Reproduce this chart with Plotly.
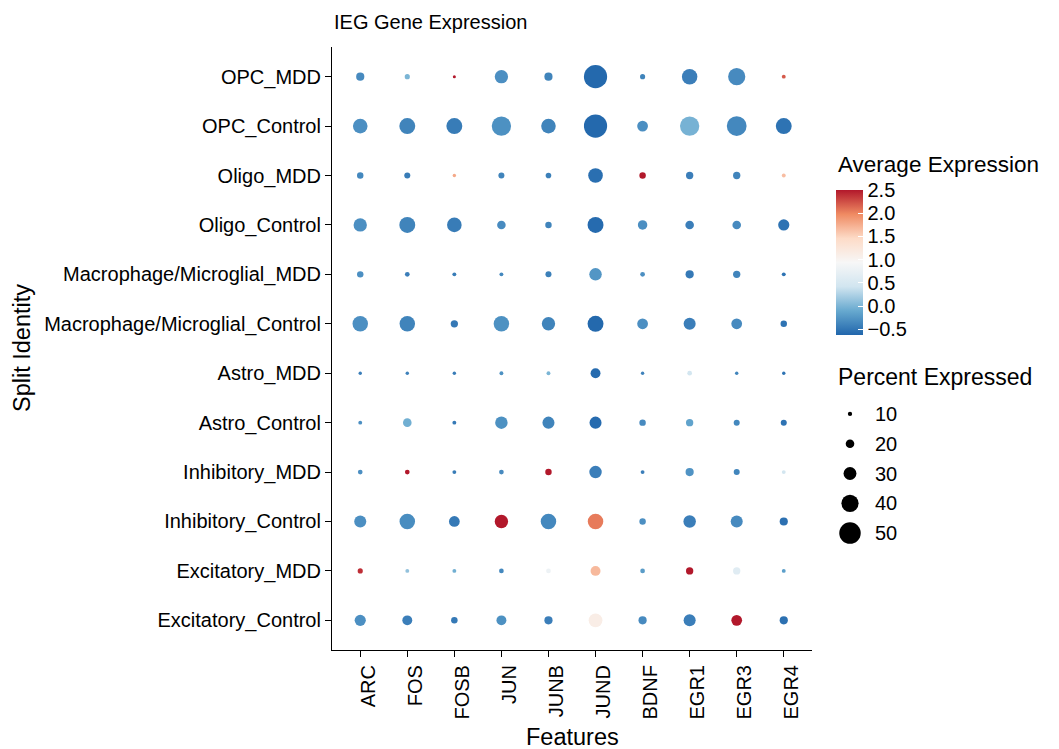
import plotly.graph_objects as go

# ---------------- data ----------------
features = ["ARC", "FOS", "FOSB", "JUN", "JUNB", "JUND", "BDNF", "EGR1", "EGR3", "EGR4"]

# identities listed top -> bottom as they appear on the chart
identities = [
    "OPC_MDD", "OPC_Control",
    "Oligo_MDD", "Oligo_Control",
    "Macrophage/Microglial_MDD", "Macrophage/Microglial_Control",
    "Astro_MDD", "Astro_Control",
    "Inhibitory_MDD", "Inhibitory_Control",
    "Excitatory_MDD", "Excitatory_Control",
]

# percent of cells expressing (rows follow `identities`, columns follow `features`)
pct_expressed = [
    [19, 12, 7, 31, 19, 54, 12, 36, 40, 9],
    [34, 37, 37, 45, 34, 54, 25, 45, 46, 37],
    [15, 14, 8, 14, 13, 34, 15, 17, 17, 9],
    [31, 37, 34, 20, 15, 37, 22, 20, 20, 26],
    [15, 11, 9, 9, 14, 29, 11, 19, 17, 9],
    [36, 36, 17, 36, 31, 37, 25, 28, 25, 15],
    [8, 8, 8, 9, 9, 23, 8, 11, 8, 8],
    [9, 20, 9, 29, 28, 28, 15, 17, 14, 14],
    [11, 11, 9, 11, 15, 29, 9, 19, 14, 9],
    [28, 36, 25, 31, 36, 36, 15, 29, 28, 19],
    [12, 9, 9, 11, 11, 23, 11, 17, 17, 9],
    [26, 23, 15, 23, 19, 32, 19, 28, 25, 19],
]

# average (scaled) expression
avg_expression = [
    [-0.34, 0.00, 2.50, -0.30, -0.39, -0.60, -0.39, -0.43, -0.34, 2.20],
    [-0.30, -0.39, -0.45, -0.29, -0.39, -0.60, -0.30, -0.02, -0.36, -0.52],
    [-0.36, -0.45, 1.78, -0.39, -0.42, -0.55, 2.50, -0.43, -0.38, 1.65],
    [-0.30, -0.39, -0.45, -0.33, -0.39, -0.58, -0.30, -0.43, -0.34, -0.52],
    [-0.30, -0.43, -0.45, -0.36, -0.42, -0.25, -0.30, -0.47, -0.38, -0.52],
    [-0.30, -0.39, -0.47, -0.29, -0.39, -0.60, -0.30, -0.43, -0.34, -0.52],
    [-0.43, -0.40, -0.45, -0.29, 0.00, -0.58, -0.40, 0.45, -0.38, -0.52],
    [-0.30, -0.05, -0.47, -0.29, -0.39, -0.58, -0.34, -0.15, -0.36, -0.52],
    [-0.30, 2.50, -0.45, -0.34, 2.50, -0.43, -0.43, -0.27, -0.38, 0.45],
    [-0.30, -0.32, -0.47, 2.50, -0.36, 2.05, -0.30, -0.43, -0.34, -0.54],
    [2.40, 0.11, -0.05, -0.36, 0.80, 1.68, -0.20, 2.50, 0.62, -0.18],
    [-0.30, -0.43, -0.47, -0.29, -0.43, 1.12, -0.34, -0.43, 2.50, -0.54],
]

colorbar_ticks = [-0.5, 0.0, 0.5, 1.0, 1.5, 2.0, 2.5]
size_legend_values = [10, 20, 30, 40, 50]

# ---------------- styling ----------------
FONT = "Liberation Sans, Arial, sans-serif"
SIZE_K = 0.43          # px of diameter per percent
CMIN, CMAX = -0.62, 2.5
RDBU = [
    [0.0, "#2166AC"], [1 / 6, "#67A9CF"], [2 / 6, "#D1E5F0"], [3 / 6, "#F7F7F7"],
    [4 / 6, "#FDDBC7"], [5 / 6, "#EF8A62"], [1.0, "#B2182B"],
]

W, H = 1059, 749
ML, MR, MT, MB = 332, 20, 47, 99
PW = W - ML - MR      # 707
PH = H - MT - MB      # 603


def px_x(p):
    return (p - ML) / PW


def px_y(p):
    return (H - MB - p) / PH


xs, ys, sizes, colors = [], [], [], []
for i, ident in enumerate(identities):
    for j, feat in enumerate(features):
        xs.append(feat)
        ys.append(ident)
        sizes.append(pct_expressed[i][j] * SIZE_K)
        colors.append(avg_expression[i][j])

fig = go.Figure()
fig.add_trace(go.Scatter(
    x=xs, y=ys, mode="markers", showlegend=False,
    marker=dict(
        size=sizes, color=colors, colorscale=RDBU, cmin=CMIN, cmax=CMAX,
        line=dict(width=0), opacity=1,
        colorbar=dict(
            x=px_x(836), xanchor="left", xpad=0, ypad=0,
            y=px_y(262.5), yanchor="middle",
            len=145, lenmode="pixels", thickness=27, thicknessmode="pixels",
            outlinewidth=0, tickvals=colorbar_ticks, tickformat=".1f",
            ticks="inside", ticklen=5, tickcolor="white", tickwidth=1,
            tickfont=dict(family=FONT, size=20, color="black"),
        ),
    ),
    xaxis="x", yaxis="y",
))

# size legend drawn on its own small axes
fig.add_trace(go.Scatter(
    x=["pct"] * len(size_legend_values),
    y=[str(v) for v in size_legend_values],
    mode="markers", showlegend=False, hoverinfo="skip",
    marker=dict(size=[v * SIZE_K for v in size_legend_values], color="#000000",
                opacity=1, line=dict(width=0)),
    xaxis="x2", yaxis="y2",
))

axis_common = dict(
    showline=True, linecolor="black", linewidth=1.1, mirror=False,
    ticks="outside", ticklen=6, tickcolor="black", tickwidth=1.1,
    showgrid=False, zeroline=False, automargin=False,
    tickfont=dict(family=FONT, size=20, color="black"),
    type="category",
)

fig.update_layout(
    width=W, height=H,
    margin=dict(l=ML, r=MR, t=MT, b=MB, pad=0),
    paper_bgcolor="white", plot_bgcolor="white",
    font=dict(family=FONT, color="black"),
    xaxis=dict(axis_common, domain=[0, 480 / PW], categoryorder="array",
               categoryarray=features, range=[-0.6, len(features) - 0.4],
               tickangle=-90, ticklabelshift=8),
    yaxis=dict(axis_common, domain=[0, 1], categoryorder="array",
               categoryarray=identities[::-1], range=[-0.6, len(identities) - 0.4]),
    xaxis2=dict(domain=[px_x(838), px_x(862)], anchor="y2", type="category",
                showline=False, showgrid=False, zeroline=False, showticklabels=False,
                ticks="", range=[-0.5, 0.5], automargin=False),
    yaxis2=dict(domain=[px_y(548), px_y(399)], anchor="x2", side="right", type="category",
                categoryorder="array",
                categoryarray=[str(v) for v in size_legend_values[::-1]],
                range=[-0.5, len(size_legend_values) - 0.5],
                showline=False, showgrid=False, zeroline=False,
                ticks="outside", ticklen=8, tickcolor="rgba(0,0,0,0)",
                tickfont=dict(family=FONT, size=20, color="black"), automargin=False),
    annotations=[
        dict(text="IEG Gene Expression", x=0, y=px_y(22), xref="paper", yref="paper",
             xanchor="left", yanchor="middle", showarrow=False,
             font=dict(family=FONT, size=20, color="black")),
        dict(text="Features", x=240 / PW, y=px_y(737), xref="paper", yref="paper",
             xanchor="center", yanchor="middle", showarrow=False,
             font=dict(family=FONT, size=23.5, color="black")),
        dict(text="Split Identity", x=px_x(22), y=px_y(348), xref="paper", yref="paper",
             xanchor="center", yanchor="middle", showarrow=False, textangle=-90,
             font=dict(family=FONT, size=23.5, color="black")),
        dict(text="Average Expression", x=px_x(836), y=px_y(164), xref="paper", yref="paper",
             xanchor="left", yanchor="middle", showarrow=False,
             font=dict(family=FONT, size=22.5, color="black")),
        dict(text="Percent Expressed", x=px_x(836), y=px_y(377), xref="paper", yref="paper",
             xanchor="left", yanchor="middle", showarrow=False,
             font=dict(family=FONT, size=23, color="black")),
    ],
)

fig.write_html(
    "out.html",
    config={"displayModeBar": False},
    post_script="document.body.style.margin='0';document.body.style.padding='0';",
)
